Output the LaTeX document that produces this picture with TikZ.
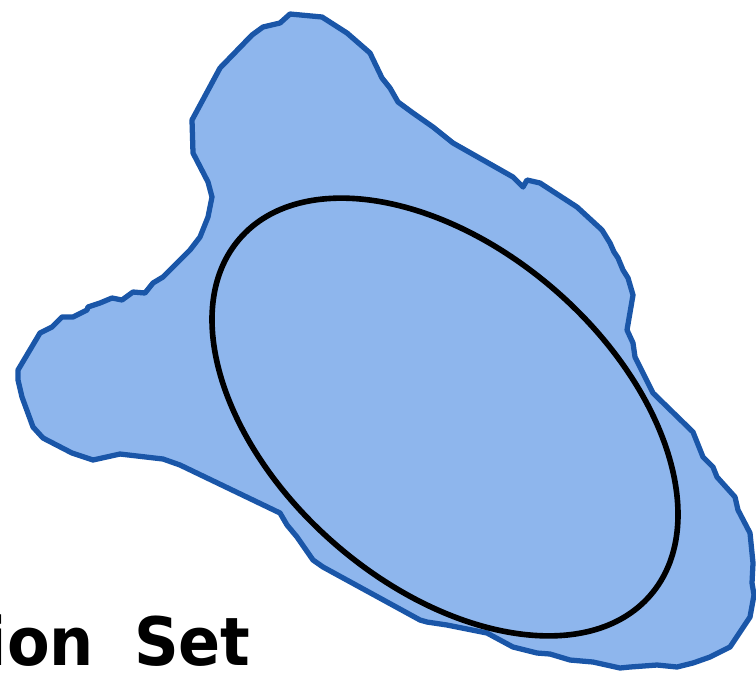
\documentclass[tikz,border=0pt]{standalone}
\usepackage{fontspec}
\newfontfamily\lblfont[FakeStretch=0.93]{DejaVu Sans}
\usetikzlibrary{shapes.geometric}
\definecolor{blobfill}{RGB}{142,182,237}
\definecolor{blobline}{RGB}{26,86,168}
\tikzset{
  blob/.style={draw=blobline, fill=blobfill, line width=3pt, line join=round},
  ovl/.style={ellipse, draw=black, line width=3.2pt, inner sep=0pt, minimum width=10.88cm, minimum height=6.72cm},
  lbl/.style={font=\lblfont\bfseries\fontsize{38}{44}\selectfont, inner sep=0pt, text depth=0pt}
}

\begin{document}
\begin{tikzpicture}[x=0.02cm, y=-0.02cm]
        \useasboundingbox (0,0) rectangle (756,677);
        \draw[blob] (290,14) -- (322,17) -- (347,33) -- (370,53) -- (382,78) -- (390,88) -- (398,102)
          -- (413,113) -- (433,127) -- (453,143) -- (513,177) -- (523,187) -- (527,180) -- (540,183)
          -- (577,207) -- (602,230) -- (610,243) -- (614,252) -- (618,258) -- (623,270) -- (628,278)
          -- (633,295) -- (627,330) -- (633,343) -- (635,357) -- (653,393) -- (693,432) -- (703,457)
          -- (713,467) -- (717,477) -- (735,497) -- (738,510) -- (750,533) -- (753,563) -- (752,583)
          -- (754,595) -- (750,617) -- (730,647) -- (710,657) -- (693,663) -- (677,667) -- (657,665)
          -- (630,667) -- (620,668) -- (593,662) -- (570,660) -- (550,654) -- (537,653) -- (513,647)
          -- (487,633) -- (447,625) -- (427,622) -- (420,620) -- (323,567) -- (313,560) -- (297,537)
          -- (287,525) -- (280,513) -- (180,465) -- (163,459) -- (120,454) -- (93,460) -- (72,453)
          -- (43,438) -- (33,427) -- (22,397) -- (18,380) -- (18,370) -- (40,333) -- (52,327)
          -- (62,317) -- (73,317) -- (87,310) -- (88,307) -- (100,303) -- (112,298) -- (122,300)
          -- (133,292) -- (145,293) -- (153,283) -- (163,277) -- (177,263) -- (190,250) -- (200,237)
          -- (208,217) -- (212,197) -- (208,182) -- (193,153) -- (192,120) -- (220,68) -- (252,35)
          -- (263,27) -- (280,23) -- cycle;
        \node[ovl, rotate=-41] (set) at (445,417) {};
        \node[lbl, anchor=base east] (name) at (251,665) {ion\hspace{0.6em}Set};
      \end{tikzpicture}
\end{document}
